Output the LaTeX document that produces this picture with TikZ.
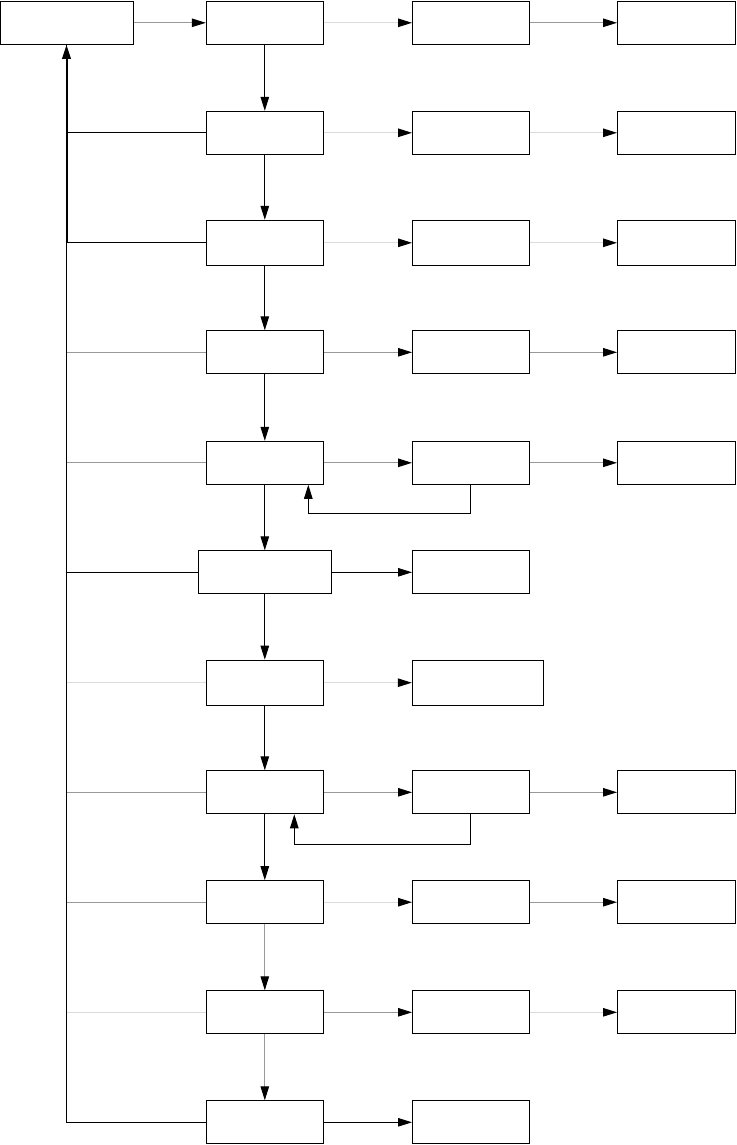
\documentclass[tikz,border=0pt]{standalone}
\usetikzlibrary{arrows.meta}
\definecolor{gmid}{gray}{0.6}
\definecolor{glight}{gray}{0.86}
\begin{document}
\begin{tikzpicture}[x=1pt,y=-1pt,
  box/.style={draw,line width=1pt,inner sep=0pt,minimum width=117pt,minimum height=43pt},
  conn/.style={line width=1pt},
  arr/.style={conn,-{Triangle[length=14pt,width=8.5pt,color=black]}}]
\useasboundingbox (0,0) rectangle (736,1145);
% left box
\node[box,minimum width=133pt] (a) at (66.5,22.8) {};
% column 1
\node[box] (b1) at (264.8,22.8) {};
\node[box] (b2) at (264.8,132.8) {};
\node[box,minimum height=45pt] (b3) at (264.8,242.8) {};
\node[box] (b4) at (264.8,352.3) {};
\node[box] (b5) at (264.8,462.8) {};
\node[box,minimum width=133pt] (b6) at (264.8,572.3) {};
\node[box,minimum height=45pt] (b7) at (264.8,682.7) {};
\node[box] (b8) at (264.8,792.3) {};
\node[box] (b9) at (264.8,902.2) {};
\node[box] (b10) at (264.8,1012.3) {};
\node[box] (b11) at (264.8,1122.3) {};
% column 2
\node[box] (c1) at (471,22.8) {};
\node[box] (c2) at (471,132.8) {};
\node[box,minimum height=45pt] (c3) at (471,242.8) {};
\node[box] (c4) at (471,352.3) {};
\node[box] (c5) at (471,462.8) {};
\node[box] (c6) at (471,572.3) {};
\node[box,minimum width=131.4pt,minimum height=45pt] (c7) at (478,682.7) {};
\node[box] (c8) at (471,792.3) {};
\node[box] (c9) at (471,902.2) {};
\node[box] (c10) at (471,1012.3) {};
\node[box] (c11) at (471,1122.3) {};
% column 3
\node[box,minimum width=118pt] (d1) at (676.5,22.8) {};
\node[box,minimum width=118pt] (d2) at (676.5,132.8) {};
\node[box,minimum width=118pt,minimum height=45pt] (d3) at (676.5,242.8) {};
\node[box,minimum width=118pt] (d4) at (676.5,352.3) {};
\node[box,minimum width=118pt] (d5) at (676.5,462.8) {};
\node[box,minimum width=118pt] (d8) at (676.5,792.3) {};
\node[box,minimum width=118pt] (d9) at (676.5,902.2) {};
\node[box,minimum width=118pt] (d10) at (676.5,1012.3) {};
% vertical chain
\draw[arr] (b1) -- (b2);
\draw[arr] (b2) -- (b3);
\draw[arr] (b3) -- (b4);
\draw[arr] (b4) -- (b5);
\draw[arr] (b5) -- (b6);
\draw[arr] (b6) -- (b7);
\draw[arr] (b7) -- (b8);
\draw[arr] (b8) -- (b9);
\draw[arr,gmid] (b9) -- (b10);
\draw[arr,gmid] (b10) -- (b11);
% left trunk
\coordinate (t3) at (b3.west -| a.south);
\draw[conn] (b11.west) -| (a.south);
\draw[conn] (b2.west) -- (b2.west -| a.south);
\draw[conn] (b3.west) -- (t3);
\draw[arr,line width=2pt] (t3) -- (a.south);
\draw[conn,gmid] (b4.west) -- (b4.west -| a.south);
\draw[conn,gmid] (b5.west) -- (b5.west -| a.south);
\draw[conn] (b6.west) -- (b6.west -| a.south);
\draw[conn,glight] (b7.west) -- (b7.west -| a.south);
\draw[conn,gmid] (b8.west) -- (b8.west -| a.south);
\draw[conn,gmid] (b9.west) -- (b9.west -| a.south);
\draw[conn,glight] (b10.west) -- (b10.west -| a.south);
% row arrows
\draw[arr,gmid] (a) -- (b1);
\draw[arr,glight] (b1) -- (c1);
\draw[arr,gmid] (c1) -- (d1);
\draw[arr,glight] (b2) -- (c2);
\draw[arr,glight] (c2) -- (d2);
\draw[arr,glight] (b3) -- (c3);
\draw[arr,glight] (c3) -- (d3);
\draw[arr,gmid] (b4) -- (c4);
\draw[arr,gmid] (c4) -- (d4);
\draw[arr,gmid] (b5) -- (c5);
\draw[arr,gmid] (c5) -- (d5);
\draw[arr] (b6) -- (c6);
\draw[arr,glight] (b7.east) -- (c7.west);
\draw[arr,gmid] (b8) -- (c8);
\draw[arr,gmid] (c8) -- (d8);
\draw[arr,glight] (b9) -- (c9);
\draw[arr,gmid] (c9) -- (d9);
\draw[arr,gmid] (b10) -- (c10);
\draw[arr,glight] (c10) -- (d10);
\draw[arr] (b11) -- (c11);
% feedback loops
\coordinate (l5) at (308.3,513.3);
\draw[arr] ([xshift=-0.7pt]c5.south) |- (l5) -- (l5 |- b5.south);
\coordinate (l8) at (294.3,844.3);
\draw[arr] ([xshift=-0.7pt]c8.south) |- (l8) -- (l8 |- b8.south);
\end{tikzpicture}
\end{document}
